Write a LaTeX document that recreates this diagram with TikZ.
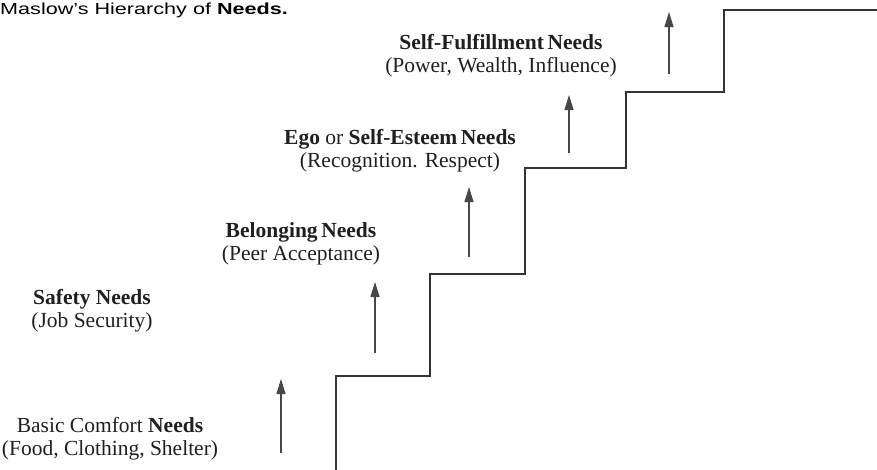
\documentclass[tikz,border=0pt]{standalone}
\usepackage{fontspec}
\setmainfont{Liberation Serif}
\newfontfamily\titlefont{Liberation Sans}
\usetikzlibrary{arrows.meta}
\begin{document}
\begin{tikzpicture}[x=1pt,y=-1pt,
  stair/.style={line width=2.5pt, draw=black!80, line join=miter},
  rise/.style={line width=1.1pt, draw=black!72, -{Triangle[length=15pt,width=9pt]}},
  need/.style={align=center, inner sep=0pt, font=\fontsize{21.5}{23}\selectfont, text=black!88}]
\useasboundingbox (0,0) rectangle (877,469);

% heading
\node[anchor=base west, inner sep=0pt] (title) at (0,14)
  {\titlefont\fontsize{16}{18}\selectfont\scalebox{1.35}[1]{Maslow’s Hierarchy of \textbf{Needs.}}};

% corners of the staircase
\coordinate (s0) at (336,472);
\coordinate (s1) at (336,376);
\coordinate (s2) at (430,376);
\coordinate (s3) at (430,274);
\coordinate (s4) at (525,274);
\coordinate (s5) at (525,168);
\coordinate (s6) at (626,168);
\coordinate (s7) at (626,92);
\coordinate (s8) at (724,92);
\coordinate (s9) at (724,10);
\coordinate (s10) at (878,10);
\draw[stair] (s0) -- (s1) -- (s2) -- (s3) -- (s4) -- (s5) -- (s6) -- (s7) -- (s8) -- (s9) -- (s10);

% upward arrows, one per level
\coordinate (a1b) at (281,453); \coordinate (a1t) at (281,379);
\coordinate (a2b) at (375,353); \coordinate (a2t) at (375,282);
\coordinate (a3b) at (469,257); \coordinate (a3t) at (469,187);
\coordinate (a4b) at (569,153); \coordinate (a4t) at (569,95);
\coordinate (a5b) at (669,74);  \coordinate (a5t) at (669,12);
\draw[rise] (a1b) -- (a1t);
\draw[rise] (a2b) -- (a2t);
\draw[rise] (a3b) -- (a3t);
\draw[rise] (a4b) -- (a4t);
\draw[rise] (a5b) -- (a5t);

% level labels
\node[need] (basic) at (110,439) {Basic Comfort \textbf{Needs}\\(Food, Clothing, Shelter)};
\node[need] (safety) at (92,311) {\textbf{Safety Needs}\\(Job Security)};
\node[need] (belong) at (301,244) {\textbf{Belonging\,Needs}\\(Peer Acceptance)};
\node[need] (ego) at (400,151) {\textbf{Ego} or \textbf{Self-Esteem\,Needs}\\(Recognition. Respect)};
\node[need] (self) at (501,56) {\textbf{Self-Fulfillment\,Needs}\\(Power, Wealth, Influence)};
\end{tikzpicture}
\end{document}
